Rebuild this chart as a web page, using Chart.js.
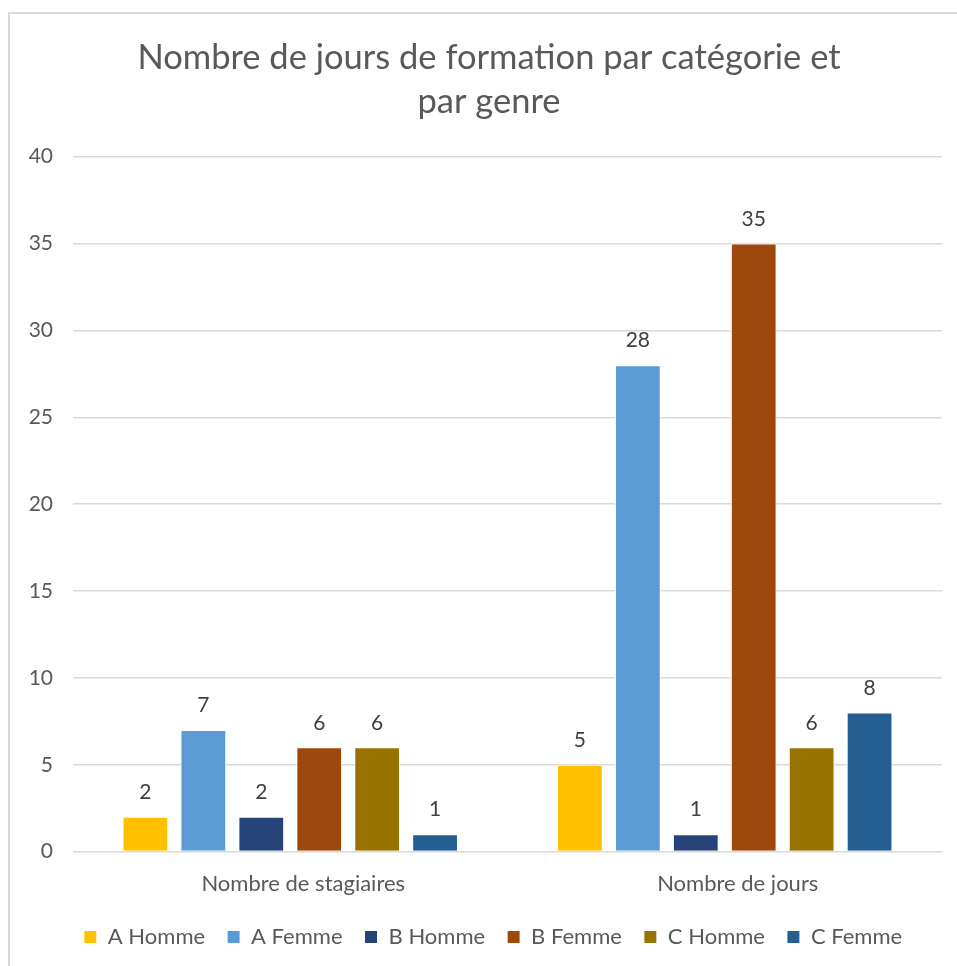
<!DOCTYPE html>
<html>
<head>
<meta charset="utf-8">
<script src="https://cdn.jsdelivr.net/npm/chart.js@4"></script>
<style>
  html,body{margin:0;padding:0;background:#fff;}
  #wrap{position:absolute;left:0;top:0;width:957px;height:966px;}
  #frame{position:absolute;left:8px;top:12px;right:0;bottom:0;border-top:2px solid #d9d9d9;border-left:2px solid #d9d9d9;pointer-events:none;}
  canvas{position:absolute;left:0;top:0;}
</style>
</head>
<body>
<div id="wrap">
<canvas id="c" width="957" height="966"></canvas>
<div id="frame"></div>
</div>
<script>
const titleLines = ["Nombre de jours de formation par catégorie et", "par genre"];
const categories = ["Nombre de stagiaires", "Nombre de jours"];
const seriesNames = ["A Homme", "A Femme", "B Homme", "B Femme", "C Homme", "C Femme"];
const seriesColors = ["#FFC000", "#5B9BD5", "#264478", "#9E480E", "#997300", "#255E91"];
const aHomme = [2, 5];
const aFemme = [7, 28];
const bHomme = [2, 1];
const bFemme = [6, 35];
const cHomme = [6, 6];
const cFemme = [1, 8];
const seriesValues = [aHomme, aFemme, bHomme, bFemme, cHomme, cFemme];
const yTicks = [0, 5, 10, 15, 20, 25, 30, 35, 40];

const FONT = "Lato, 'Open Sans', sans-serif";
const TXT = "#595959";
const LEGEND_SHIFT_Y = 12;
const LEGEND_SHIFT_X = 12;
const TITLE_SHIFT_X = 8;

const valueLabels = {
  id: 'valueLabels',
  afterLayout(chart) {
    const lg = chart.legend;
    if (lg) {
      lg.top -= LEGEND_SHIFT_Y; lg.bottom -= LEGEND_SHIFT_Y;
      lg.left += LEGEND_SHIFT_X; lg.right += LEGEND_SHIFT_X;
    }
    const tb = chart.titleBlock;
    if (tb) { tb.left += TITLE_SHIFT_X; tb.right += TITLE_SHIFT_X; }
  },
  afterDatasetsDraw(chart) {
    const ctx = chart.ctx;
    ctx.save();
    ctx.font = "21px " + FONT;
    ctx.fillStyle = "#404040";
    ctx.textAlign = "center";
    ctx.textBaseline = "bottom";
    chart.data.datasets.forEach((ds, i) => {
      const meta = chart.getDatasetMeta(i);
      meta.data.forEach((bar, j) => {
        ctx.fillText(String(ds.data[j]), bar.x, bar.y - 14);
      });
    });
    ctx.restore();
  }
};

new Chart(document.getElementById('c'), {
  type: 'bar',
  data: {
    labels: categories,
    datasets: seriesNames.map((n, i) => ({
      label: n,
      data: seriesValues[i],
      backgroundColor: seriesColors[i],
      borderColor: "#ffffff",
      borderWidth: 1,
      categoryPercentage: 0.8,
      barPercentage: 0.79
    }))
  },
  options: {
    responsive: false,
    animation: false,
    devicePixelRatio: 1,
    layout: { padding: { left: 20, right: 15, top: 35, bottom: -4 } },
    plugins: {
      title: {
        display: true,
        text: titleLines,
        color: TXT,
        font: { family: FONT, size: 34.5, weight: 'normal', lineHeight: 1.3 },
        padding: { top: 0, bottom: 32 }
      },
      legend: {
        position: 'bottom',
        labels: {
          color: TXT,
          font: { family: FONT, size: 22 },
          boxWidth: 13,
          boxHeight: 13,
          padding: 22
        }
      },
      tooltip: { enabled: false }
    },
    scales: {
      x: {
        grid: { display: false, drawTicks: false },
        border: { display: false },
        ticks: { color: TXT, font: { family: FONT, size: 22 }, padding: 19, labelOffset: 13 }
      },
      y: {
        min: 0, max: 40,
        afterBuildTicks(axis) { axis.ticks = yTicks.map(v => ({ value: v })); },
        afterFit(axis) { axis.width = 53; },
        grid: { color: "#d9d9d9", lineWidth: 1.5, drawTicks: false },
        border: { display: false },
        ticks: { color: TXT, font: { family: FONT, size: 21 }, padding: 20 }
      }
    }
  },
  plugins: [valueLabels]
});
</script>
</body>
</html>
